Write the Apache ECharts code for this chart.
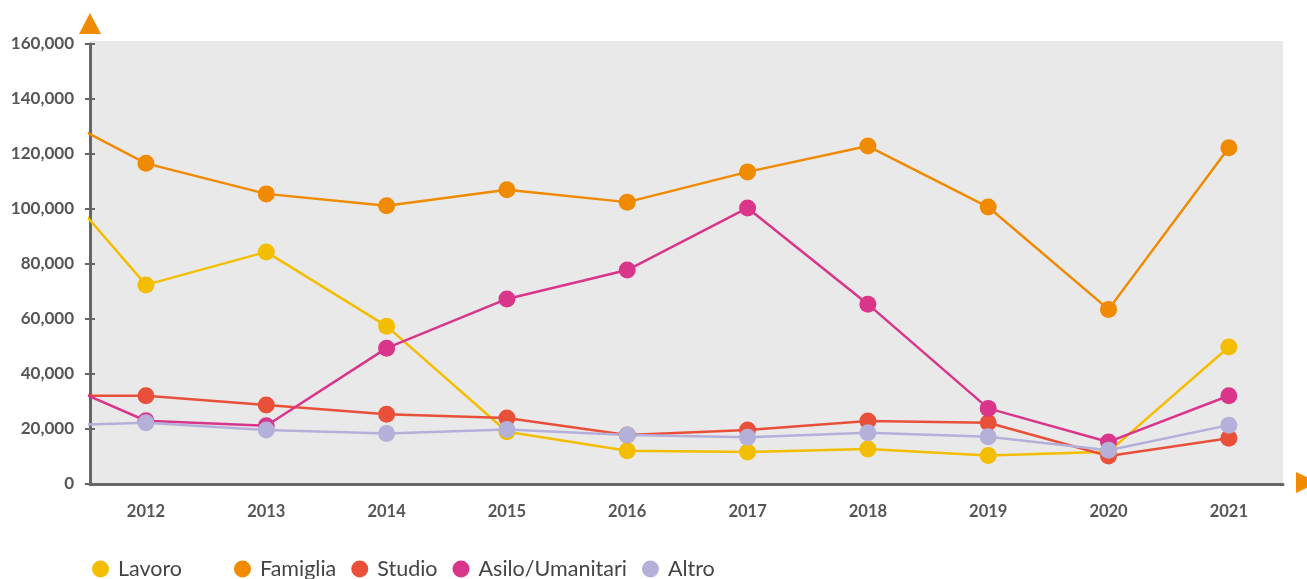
<!DOCTYPE html>
<html>
<head>
<meta charset="utf-8">
<script src="https://cdn.jsdelivr.net/npm/echarts@6/dist/echarts.min.js"></script>
<style>
  html, body { margin: 0; padding: 0; background: #ffffff; }
  #chart { width: 1307px; height: 579px; }
</style>
</head>
<body>
<div id="chart"></div>
<script>
// Years; the first one only sets the slope of each line as it enters the plot
const years = [2011, 2012, 2013, 2014, 2015, 2016, 2017, 2018, 2019, 2020, 2021];
const yearLabels = [2012, 2013, 2014, 2015, 2016, 2017, 2018, 2019, 2020, 2021];

const lavoro   = [123000, 72400, 84400, 57400, 19000, 12100, 11600, 12700, 10400, 11700, 49800];
const famiglia = [139400, 116600, 105500, 101200, 107000, 102500, 113500, 122900, 100700, 63500, 122300];
const studio   = [32100, 32100, 28700, 25400, 24000, 17800, 19600, 22900, 22300, 10200, 16600];
const asilo    = [42000, 23000, 21200, 49400, 67300, 77800, 100400, 65400, 27500, 15300, 32100];
const altro    = [21000, 22300, 19600, 18400, 19800, 17800, 17000, 18600, 17200, 12300, 21400];

const yTicks = [0, 20000, 40000, 60000, 80000, 100000, 120000, 140000, 160000];

const seriesDefs = [
  { name: 'Lavoro', values: lavoro, color: '#F4BE00' },
  { name: 'Famiglia', values: famiglia, color: '#F08A00' },
  { name: 'Studio', values: studio, color: '#E9503A' },
  { name: 'Asilo/Umanitari', values: asilo, color: '#D9358A' },
  { name: 'Altro', values: altro, color: '#B3B0DA' }
];

const chart = echarts.init(document.getElementById('chart'), null, { renderer: 'canvas' });

const axisGrey = '#666666';
const labelFont = { fontFamily: 'Lato', fontWeight: 'bold', color: '#555555' };
const legendText = { fontFamily: 'Lato', fontSize: 21.5, color: '#444444', padding: [0, 0, 0, 4] };

const option = {
  animation: false,
  backgroundColor: '#ffffff',
  grid: { left: 90, right: 24, top: 44, bottom: 95, containLabel: false },
  graphic: [
    // plot background, a touch taller than the grid
    { type: 'rect', z: -10, shape: { x: 90, y: 41, width: 1193, height: 443 }, style: { fill: '#E9E9E9' } },
    // arrow heads at the ends of the axes
    { type: 'polygon', z: 10, shape: { points: [[90, 13], [79, 34], [101, 34]] }, style: { fill: '#F08A00' } },
    { type: 'polygon', z: 10, shape: { points: [[1296, 472], [1318, 482.5], [1296, 493]] }, style: { fill: '#F08A00' } }
  ],
  legend: [
    {
      data: ['Lavoro'],
      left: 92, top: 558, padding: 0,
      icon: 'circle', itemWidth: 17, itemHeight: 17,
      textStyle: legendText
    },
    {
      data: ['Famiglia', 'Studio', 'Asilo/Umanitari', 'Altro'],
      left: 234, top: 558, padding: 0, itemGap: 15,
      icon: 'circle', itemWidth: 17, itemHeight: 17,
      textStyle: legendText
    }
  ],
  xAxis: {
    type: 'value',
    min: 2011.535,
    max: 2021.45,
    splitLine: { show: false },
    axisLine: { show: true, onZero: false, lineStyle: { color: axisGrey, width: 3 } },
    axisTick: { show: false },
    axisLabel: Object.assign({
      customValues: yearLabels,
      margin: 19,
      fontSize: 16.5,
      formatter: (v) => String(v)
    }, labelFont)
  },
  yAxis: [
    {
      type: 'value',
      min: 0, max: 160000, interval: 20000,
      splitLine: { show: false },
      axisLine: { show: true, lineStyle: { color: axisGrey, width: 3 } },
      axisTick: { show: true, length: 5, lineStyle: { color: axisGrey, width: 2 } },
      axisLabel: Object.assign({
        margin: 16,
        fontSize: 17,
        customValues: yTicks,
        formatter: (v) => v.toLocaleString('en-US')
      }, labelFont)
    },
    {
      type: 'value',
      min: 0, max: 160000, interval: 20000,
      position: 'left',
      splitLine: { show: false },
      axisLine: { show: false },
      axisTick: { show: true, inside: true, length: 5, lineStyle: { color: axisGrey, width: 2 } },
      axisLabel: { show: false }
    }
  ],
  series: seriesDefs.map((s) => ({
    name: s.name,
    type: 'line',
    clip: true,
    data: years.map((y, i) => [y, s.values[i]]),
    symbol: 'circle',
    symbolSize: 17,
    showSymbol: true,
    color: s.color,
    itemStyle: { color: s.color },
    lineStyle: { color: s.color, width: 2.5 },
    z: 3
  }))
};

chart.setOption(option);
</script>
</body>
</html>
